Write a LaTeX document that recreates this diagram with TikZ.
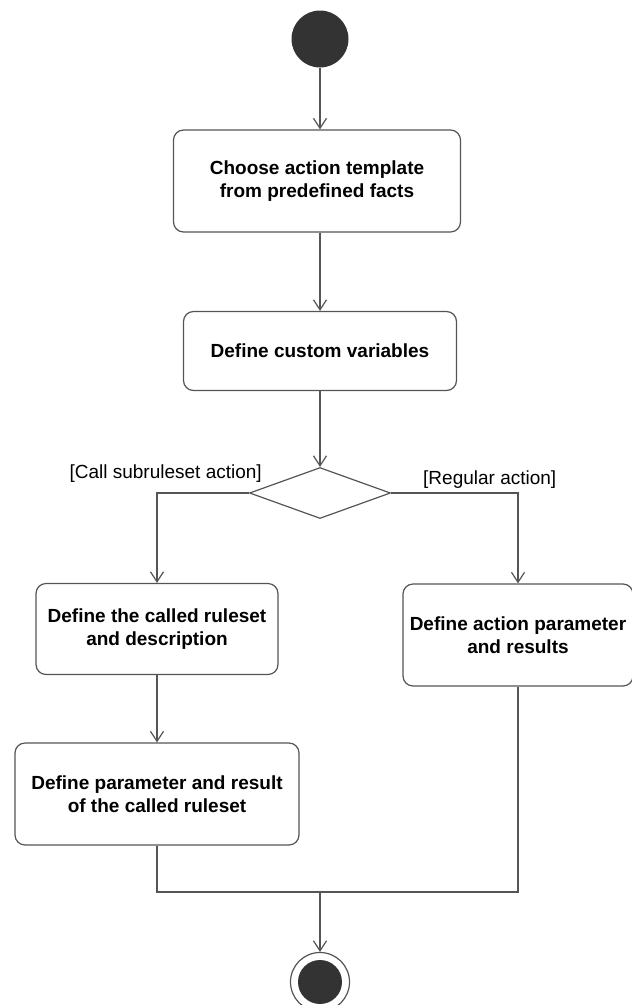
\documentclass[tikz,border=0pt]{standalone}
\usepackage{fontspec}
\setmainfont{Liberation Sans}
\usetikzlibrary{arrows.meta,positioning,shapes.geometric}
\definecolor{wire}{RGB}{85,85,85}
\definecolor{blob}{RGB}{51,51,51}
\tikzset{
  act/.style      = {rectangle, rounded corners=10pt, draw=wire, line width=1.2pt,
                     fill=white, align=center, inner sep=0pt,
                     font=\fontsize{19}{23}\selectfont\bfseries},
  choice/.style   = {diamond, draw=wire, line width=1.2pt, fill=white,
                     minimum width=141pt, minimum height=51pt, inner sep=0pt},
  guard/.style    = {font=\fontsize{19}{23}\selectfont, inner sep=0pt},
  flow/.style     = {-{Straight Barb[length=10pt,width=13pt]}, draw=wire, line width=1.2pt},
  link/.style     = {draw=wire, line width=1.2pt},
  startdot/.style = {circle, fill=blob, inner sep=0pt, minimum size=57pt},
  endring/.style  = {circle, draw=wire, line width=1.2pt, fill=white,
                     inner sep=0pt, minimum size=59pt},
}
\begin{document}
\begin{tikzpicture}[x=1pt,y=-1pt]
\useasboundingbox (0,0) rectangle (632,1005);
\node[startdot] (start) at (320,39) {};
\node[act, minimum width=287pt, minimum height=102pt] (template) at (317,181)
  {Choose action template\\from predefined facts};
\node[act, minimum width=273pt, minimum height=79pt] (vars) at (320,351)
  {Define custom variables};
\node[choice] (split) at (320,493) {};
\node[guard, anchor=east] (callg) at (262,474) {[Call subruleset action]};
\node[guard, anchor=west] (regg) at (423,480) {[Regular action]};
\node[act, minimum width=242pt, minimum height=91pt] (ruleset) at (157,629)
  {Define the called ruleset\\and description};
\node[act, minimum width=230pt, minimum height=102pt] (actpar) at (518,635)
  {Define action parameter\\and results};
\node[act, minimum width=284pt, minimum height=102pt] (subpar) at (157,794)
  {Define parameter and result\\of the called ruleset};
\coordinate (join) at (320,892);
\node[endring] (finish) at (320,982) {};
\node[startdot, minimum size=44pt] (finishdot) at (finish) {};
\draw[flow] (start) -- (start |- template.north);
\draw[flow] (start |- template.south) -- (vars);
\draw[flow] (vars) -- (split);
\draw[flow] (split.west) -| (ruleset.north);
\draw[flow] (split.east) -| (actpar.north);
\draw[flow] (ruleset) -- (subpar);
\draw[link] (subpar.south) |- (join) -| (actpar.south);
\draw[flow] (join) -- (finish);
\end{tikzpicture}
\end{document}
